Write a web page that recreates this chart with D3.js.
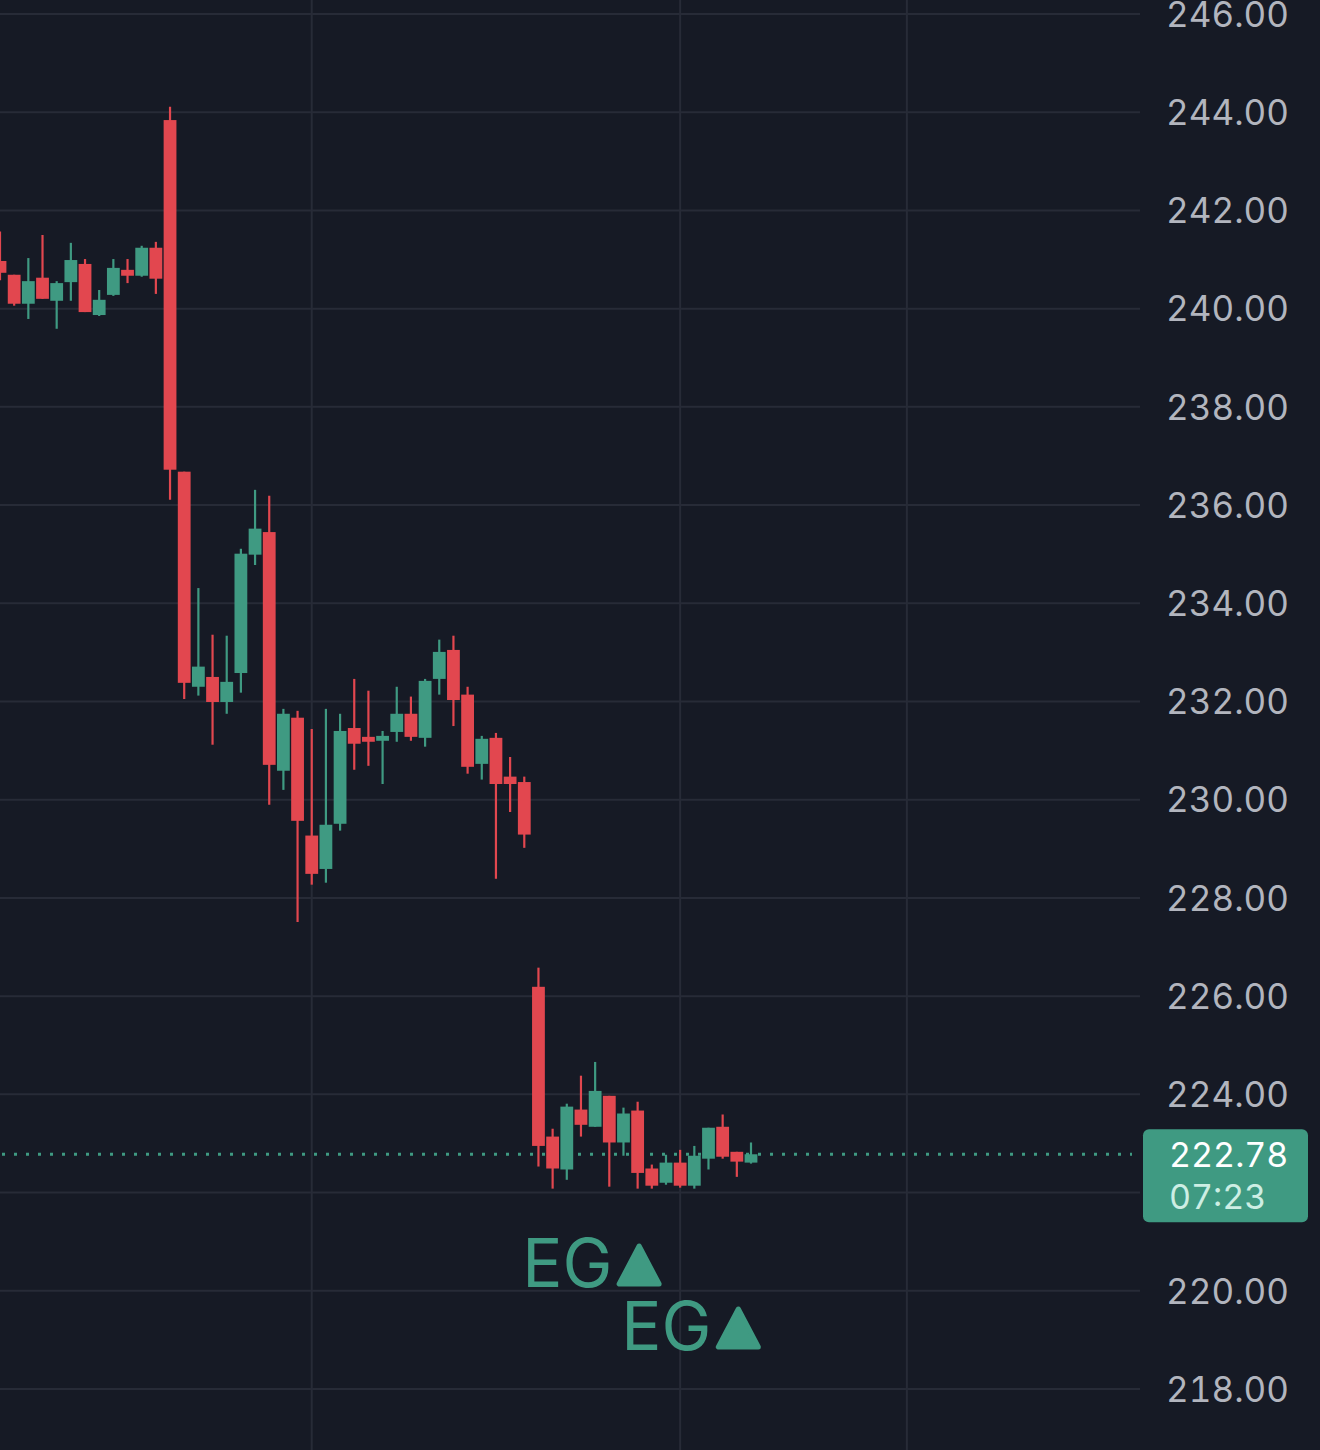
<!DOCTYPE html>
<html>
<head>
<meta charset="utf-8">
<script src="https://cdn.jsdelivr.net/npm/d3@7"></script>
<style>
  html, body { margin: 0; padding: 0; background: #161a25; }
  svg { display: block; font-family: Inter, "Noto Sans", sans-serif; }
  .num { font-variant-numeric: tabular-nums; font-feature-settings: "tnum" 1; }
</style>
</head>
<body>
<div class="chart"></div>
<script>
// candles, oldest first
const opens  = [240.97,240.69,240.10,240.63,240.16,240.54,240.91,239.87,240.28,240.79,240.67,241.24,
  243.84,236.68,232.30,232.50,231.99,232.58,234.99,235.45,230.59,231.67,229.27,228.59,229.51,231.46,
  231.28,231.20,231.38,231.75,231.26,232.46,233.05,232.14,230.73,231.26,230.47,230.36,226.19,223.14,
  222.47,223.69,223.34,223.97,223.02,223.67,222.49,222.20,222.61,222.14,222.69,223.34,222.83,222.61];
const highs  = [241.57,240.69,241.03,241.50,240.56,241.34,241.01,240.38,241.01,241.01,241.28,241.36,
  244.11,236.68,234.31,233.36,233.34,235.11,236.31,236.19,231.85,231.81,231.44,231.85,231.75,232.46,
  232.22,231.40,232.30,232.10,232.46,233.26,233.34,232.30,231.30,231.36,230.87,230.47,226.58,223.30,
  223.81,224.38,224.66,223.97,223.73,223.85,222.57,222.77,222.87,222.95,223.32,223.59,222.83,223.02];
const lows   = [240.58,240.06,239.79,240.20,239.59,240.16,239.93,239.85,240.26,240.52,240.65,240.30,
  236.11,232.05,232.12,231.12,231.75,232.18,234.78,229.90,230.20,227.51,228.27,228.31,229.37,230.61,
  230.69,230.32,231.18,231.20,231.08,232.14,231.50,230.53,230.41,228.39,229.75,229.02,222.53,222.08,
  222.26,223.14,223.34,222.12,222.75,222.08,222.08,222.16,222.10,222.08,222.47,222.69,222.32,222.59];
const closes = [240.73,240.10,240.56,240.20,240.52,240.99,239.93,240.18,240.83,240.67,241.24,240.61,
  236.72,232.38,232.71,231.99,232.40,235.01,235.52,230.71,231.75,229.57,228.49,229.49,231.40,231.14,
  231.18,231.30,231.75,231.28,232.42,233.01,232.03,230.67,231.24,230.32,230.32,229.29,222.95,222.49,
  223.75,223.38,224.07,223.02,223.61,222.40,222.14,222.61,222.14,222.75,223.32,222.73,222.63,222.78];

const priceTicks = [218, 220, 222, 224, 226, 228, 230, 232, 234, 236, 238, 240, 242, 244, 246];
const timeGridIdx = [22, 48, 64];   // vertical grid lines fall on these bars
const lastPrice = 222.78;
const countdown = '07:23';
const markIdx = [42, 49];           // "EG" markers

const W = 1320, H = 1450;
const plotW = 1140;
const up = '#3f9a82', down = '#e2474f';

const x = d3.scaleLinear().domain([0, 53]).range([0, 751]);
const y = d3.scaleLinear().domain([218, 246]).range([1389, 14]);
const barW = 12.8;

const svg = d3.select('.chart').append('svg')
  .attr('width', W).attr('height', H)
  .attr('viewBox', `0 0 ${W} ${H}`);

svg.append('rect').attr('width', W).attr('height', H).attr('fill', '#161a25');

// grid
const yAxis = d3.axisRight(y).tickValues(priceTicks).tickSize(0).tickFormat(d3.format('.2f'));
svg.append('g').attr('class', 'hgrid')
  .selectAll('line').data(priceTicks).enter().append('line')
  .attr('x1', 0).attr('x2', plotW)
  .attr('y1', d => y(d)).attr('y2', d => y(d))
  .attr('stroke', '#272b37').attr('stroke-width', 2);
svg.append('g').attr('class', 'vgrid')
  .selectAll('line').data(timeGridIdx).enter().append('line')
  .attr('x1', d => x(d)).attr('x2', d => x(d))
  .attr('y1', 0).attr('y2', H)
  .attr('stroke', '#272b37').attr('stroke-width', 2);

// price axis
const ax = svg.append('g').attr('class', 'y axis')
  .attr('transform', `translate(${W - 31},0)`)
  .call(yAxis);
ax.select('.domain').remove();
ax.selectAll('text')
  .attr('class', 'num')
  .attr('x', 0).attr('dy', '0.35em')
  .attr('text-anchor', 'end')
  .attr('fill', '#b2b5be')
  .style('font-size', '35px')
  .style('font-family', 'Inter, "Noto Sans", sans-serif');

// last price dotted line
svg.append('line')
  .attr('x1', 2).attr('x2', 1132)
  .attr('y1', y(lastPrice)).attr('y2', y(lastPrice))
  .attr('stroke', up).attr('stroke-width', 3)
  .attr('stroke-dasharray', '3 9');

// candles
const candles = d3.range(opens.length).map(i => ({
  i, o: opens[i], h: highs[i], l: lows[i], c: closes[i]
}));
const g = svg.append('g').attr('class', 'candles');
g.selectAll('line.wick').data(candles).enter().append('line')
  .attr('class', 'wick')
  .attr('x1', d => x(d.i)).attr('x2', d => x(d.i))
  .attr('y1', d => y(d.h)).attr('y2', d => y(d.l))
  .attr('stroke', d => d.c >= d.o ? up : down)
  .attr('stroke-width', 2.2);
g.selectAll('rect.body').data(candles).enter().append('rect')
  .attr('class', 'body')
  .attr('x', d => x(d.i) - barW / 2)
  .attr('width', barW)
  .attr('y', d => y(Math.max(d.o, d.c)))
  .attr('height', d => Math.max(2, Math.abs(y(d.o) - y(d.c))))
  .attr('fill', d => d.c >= d.o ? up : down);

// markers
const marks = svg.append('g').attr('class', 'marks')
  .selectAll('g').data(markIdx).enter().append('g')
  .attr('transform', (d, k) => `translate(${x(d) - 73},${1287 + k * 63})`);
marks.append('text')
  .attr('x', 0).attr('y', 0)
  .attr('fill', up)
  .style('font-size', '67px')
  .style('font-family', 'Inter, "Noto Sans", sans-serif')
  .text('EG');
marks.append('path')
  .attr('d', 'M97,-3 L137,-3 L117,-41 Z')
  .attr('fill', up).attr('stroke', up)
  .attr('stroke-width', 5).attr('stroke-linejoin', 'round');

// last price label
const lbl = svg.append('g').attr('transform', `translate(1143,${y(lastPrice) - 25})`);
lbl.append('rect')
  .attr('width', 165).attr('height', 93).attr('rx', 6)
  .attr('fill', up);
lbl.append('text')
  .attr('class', 'num')
  .attr('x', 26).attr('y', 38)
  .attr('fill', '#ffffff')
  .style('font-size', '34px')
  .text(d3.format('.2f')(lastPrice));
lbl.append('text')
  .attr('class', 'num')
  .attr('x', 26).attr('y', 80)
  .attr('fill', '#cdeee4')
  .style('font-size', '34px')
  .text(countdown);
</script>
</body>
</html>
